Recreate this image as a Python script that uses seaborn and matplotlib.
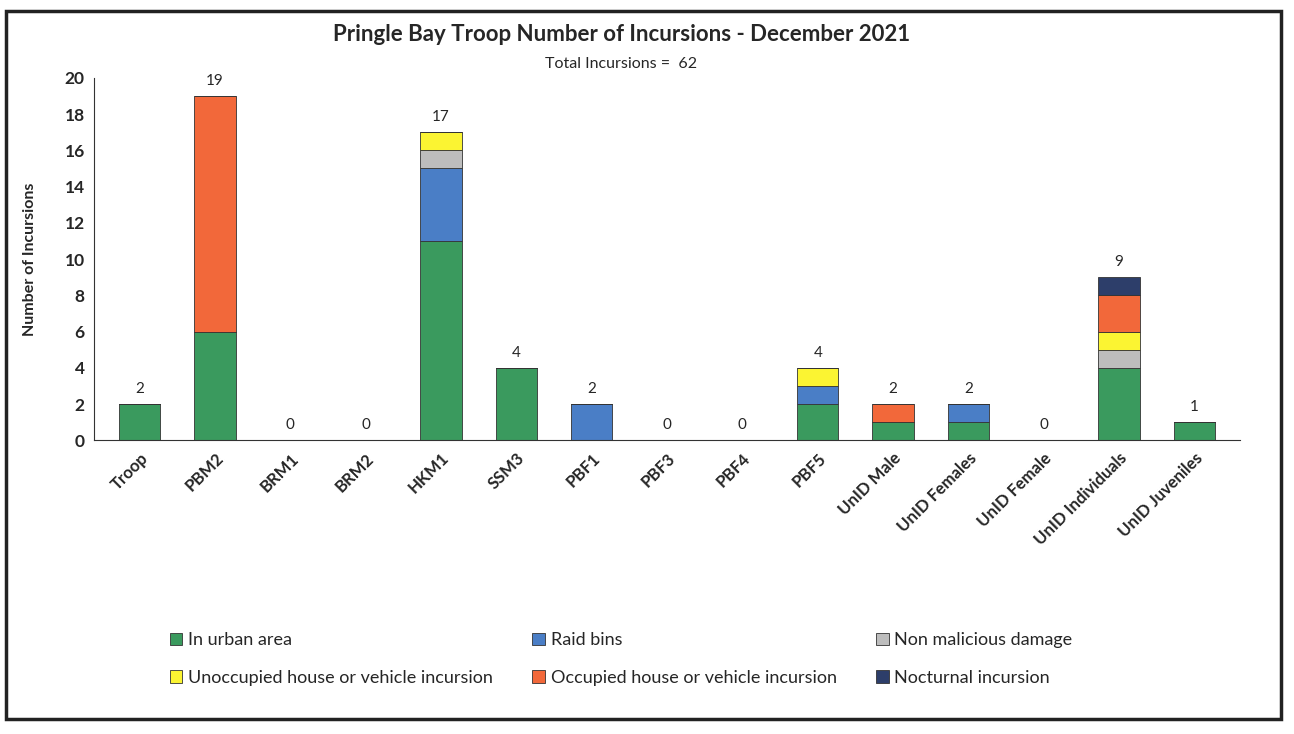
import numpy as np
import pandas as pd
import matplotlib
matplotlib.use("Agg")
import matplotlib.pyplot as plt
import seaborn as sns
from matplotlib.patches import Patch, Rectangle

# ── Data ────────────────────────────────────────────────────────────────────
categories = ["Troop", "PBM2", "BRM1", "BRM2", "HKM1", "SSM3", "PBF1", "PBF3",
              "PBF4", "PBF5", "UnID Male", "UnID Females", "UnID Female",
              "UnID Individuals", "UnID Juveniles"]
urban      = [2, 6, 0, 0, 11, 4, 0, 0, 0, 2, 1, 1, 0, 4, 1]
raid_bins  = [0, 0, 0, 0, 4, 0, 2, 0, 0, 1, 0, 1, 0, 0, 0]
non_malic  = [0, 0, 0, 0, 1, 0, 0, 0, 0, 0, 0, 0, 0, 1, 0]
unoccupied = [0, 0, 0, 0, 1, 0, 0, 0, 0, 1, 0, 0, 0, 1, 0]
occupied   = [0, 13, 0, 0, 0, 0, 0, 0, 0, 0, 1, 0, 0, 2, 0]
nocturnal  = [0, 0, 0, 0, 0, 0, 0, 0, 0, 0, 0, 0, 0, 1, 0]

series = [
    ("In urban area", urban, "#3a9a5e"),
    ("Raid bins", raid_bins, "#4a7ec6"),
    ("Non malicious damage", non_malic, "#bdbdbd"),
    ("Unoccupied house or vehicle incursion", unoccupied, "#fbf432"),
    ("Occupied house or vehicle incursion", occupied, "#f2683a"),
    ("Nocturnal incursion", nocturnal, "#2d3e6a"),
]

sns.set_style("white")
plt.rcParams["font.family"] = ["Lato", "DejaVu Sans"]

fig = plt.figure(figsize=(12.94, 7.34), dpi=100)
ax = fig.add_axes([0.073, 0.40, 0.885, 0.494])

# ── Stacked bars ────────────────────────────────────────────────────────────
bottom = np.zeros(len(categories))
for name, vals, color in series:
    df = pd.DataFrame({"cat": categories, "val": vals})
    sns.barplot(data=df, x="cat", y="val", order=categories, color=color,
                saturation=1, width=0.55, bottom=bottom.copy(),
                edgecolor="#333333", linewidth=0.6, ax=ax)
    bottom += np.array(vals)

totals = bottom
for i, t in enumerate(totals):
    ax.annotate(f"{int(t)}", (i, t), xytext=(0, 6), textcoords="offset points",
                ha="center", va="bottom", fontsize=11)

ax.set_ylim(0, 20)
ax.set_xlim(-0.6, len(categories) - 0.4)
ax.set_yticks(range(0, 21, 2))
ax.set_yticklabels([str(v) for v in range(0, 21, 2)], fontsize=12.5, fontweight="bold")
ax.set_xticks(range(len(categories)))
ax.set_xticklabels(categories, rotation=45, ha="right", rotation_mode="anchor",
                   fontsize=12, fontweight="bold")
ax.set_xlabel("")
ax.set_ylabel("Number of Incursions", fontsize=11.5, fontweight="bold", labelpad=20)
ax.tick_params(axis="both", length=0, pad=7)
for s in ["top", "right"]:
    ax.spines[s].set_visible(False)
for s in ["left", "bottom"]:
    ax.spines[s].set_color("#333333")
    ax.spines[s].set_linewidth(0.8)

fig.text(0.48, 0.953, "Pringle Bay Troop Number of Incursions - December 2021",
         ha="center", va="center", fontsize=16, fontweight="bold")
fig.text(0.48, 0.913, "Total Incursions =  62", ha="center", va="center", fontsize=11.5)

# ── Legend (row-wise order with ncol=3) ─────────────────────────────────────
handles = [Patch(facecolor=c, edgecolor="#333333", linewidth=0.6, label=n)
           for n, _, c in series]
order = [0, 3, 1, 4, 2, 5]
fig.legend([handles[k] for k in order], [series[k][0] for k in order],
           loc="center", bbox_to_anchor=(0.48, 0.102), ncol=3, frameon=False,
           fontsize=13, handlelength=0.7, handleheight=0.7, handletextpad=0.3,
           columnspacing=2.2, labelspacing=1.2)

# outer frame
fig.patches.append(Rectangle((0.005, 0.02), 0.985, 0.965, transform=fig.transFigure,
                             fill=False, edgecolor="#222222", linewidth=2.5))

fig.savefig("out.png", dpi=100)
